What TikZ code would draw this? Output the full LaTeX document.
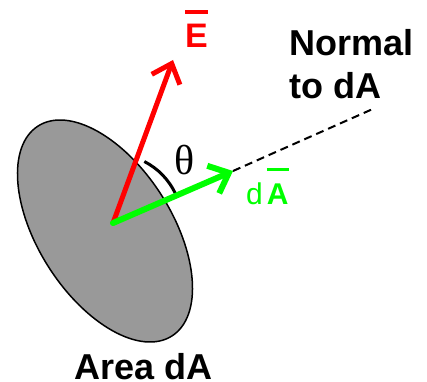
\documentclass[tikz,border=0pt]{standalone}
\usepackage{fontspec}
\setmainfont{Liberation Sans}
\newfontfamily\thetafont{Liberation Serif}
\usetikzlibrary{arrows.meta}
\definecolor{areagray}{RGB}{153,153,153}
\definecolor{vecred}{RGB}{255,0,0}
\definecolor{vecgreen}{RGB}{0,255,0}
\newcommand\barover[3]{\vbox{\hrule height #2\kern #3\hbox{#1}}}
\tikzset{
  vec/.style={line width=#1, line cap=round, -{Straight Barb[length=17pt,width=30pt]}},
  lbl/.style={inner sep=0pt, font=\bfseries},
}
\begin{document}
\begin{tikzpicture}[x=1pt,y=1pt]
\useasboundingbox (0,0) rectangle (427,381);
% ellipse (area element)
\draw[line width=1.5pt, fill=areagray, rotate around={122.5:(105,150)}]
  (105,150) ellipse [x radius=124.5pt, y radius=66.9pt];
\coordinate (O) at (113,158);
\coordinate (Etip) at (173,321);
\coordinate (Atip) at (233,210);
\coordinate (Nend) at (375,273);
% angle arc
\draw[line width=3pt] ([shift={(25:69)}]O) arc[start angle=25, end angle=63, radius=69pt];
% normal line
\draw[line width=2pt, dash pattern=on 8pt off 5pt] (Atip) -- (Nend);
% vectors
\draw[vecred, vec=5pt] (O) -- (Etip);
\draw[vecgreen, vec=6pt] (O) -- (Atip);
% labels
\node[lbl, text=vecred, anchor=base west, font=\bfseries\fontsize{34}{40}\selectfont] (Elabel) at (185,334) {\barover{E}{3.5pt}{10pt}};
\node[lbl, text=vecgreen, anchor=base west, font=\fontsize{30}{36}\selectfont] (dAlabel) at (246,177) {d\kern4pt\barover{\bfseries A}{3.5pt}{12pt}};
\node[inner sep=0pt, anchor=center, font=\thetafont\fontsize{42}{48}\selectfont] (theta) at (185,221) {θ};
\node[lbl, anchor=base west, align=left, font=\bfseries\fontsize{36}{43}\selectfont] (normal) at (289,283) {Normal\\to dA};
\node[lbl, anchor=base west, font=\bfseries\fontsize{36}{42}\selectfont] (area) at (74,2) {Area dA};
\end{tikzpicture}
\end{document}
